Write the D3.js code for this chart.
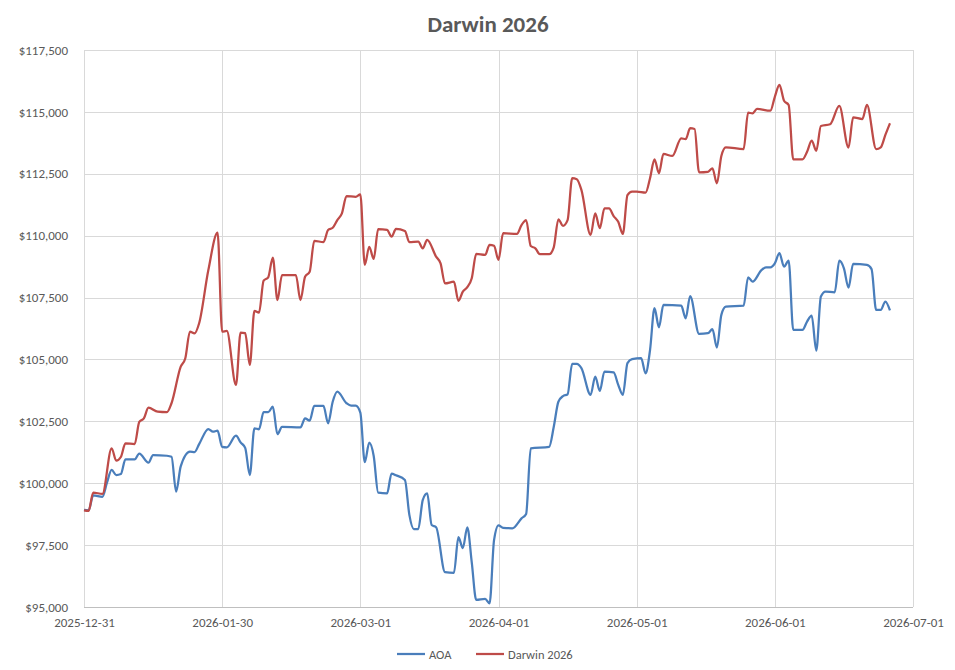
<!DOCTYPE html>
<html>
<head>
<meta charset="utf-8">
<script src="https://cdn.jsdelivr.net/npm/d3@7"></script>
<style>
  body { margin: 0; background: #fff; }
  text { font-family: Calibri, Carlito, "Liberation Sans Narrow", "Liberation Sans", Arial, sans-serif; fill: #595959; }
</style>
</head>
<body>
<script>
const title = "Darwin 2026";
const seriesNames = ["AOA", "Darwin 2026"];
const tickDates = ["2025-12-31", "2026-01-30", "2026-03-01", "2026-04-01", "2026-05-01", "2026-06-01", "2026-07-01"];
const yTicks = [95000, 97500, 100000, 102500, 105000, 107500, 110000, 112500, 115000, 117500];

// days since 2025-12-31
const aoaDays = [0,1,2,4,5,6,7,8,9,11,12,14,15,18,19,20,21,23,24,25,27,28,29,30,31,33,34,35,36,37,38,39,40,41,42,43,47,48,49,50,52,53,54,55,57,58,59,60,61,62,63,64,66,67,68,70,71,72,73,74,75,76,77,79,81,82,83,84,85,86,88,89,90,91,92,94,96,97,98,102,103,104,105,106,107,108,109,111,112,113,114,116,117,118,119,120,122,123,124,125,126,127,131,132,133,135,137,138,139,140,141,145,146,147,149,150,151,152,153,154,155,156,158,159,160,161,162,163,165,166,167,168,169,172,173,174,175,176,177];
const aoaValues = [98920,98900,99510,99450,100030,100540,100330,100370,100960,100960,101200,100830,101140,101110,101070,99660,100680,101280,101260,101580,102190,102080,102120,101470,101450,101920,101650,101430,100330,102220,102180,102870,102870,103090,101980,102280,102260,102620,102530,103120,103120,102420,103290,103700,103230,103130,103130,102850,100850,101640,101100,99620,99590,100390,100320,100130,98720,98150,98150,99320,99590,98310,98220,96410,96380,97820,97380,98220,96800,95290,95330,95150,97700,98300,98200,98180,98580,98760,101410,101470,102280,103290,103520,103590,104820,104820,104650,103570,104310,103730,104510,104480,103970,103570,104850,105010,105050,104440,105380,107070,106300,107200,107170,106660,107560,106030,106060,106220,105480,106800,107130,107170,108320,108140,108610,108720,108720,108880,109290,108750,108990,106190,106190,106530,106770,105360,107540,107740,107710,108990,108680,107900,108860,108820,108650,107000,107000,107340,106980];

const darwinDays = [0,1,2,4,6,7,8,9,11,12,13,14,16,18,19,21,22,23,24,25,27,29,30,31,33,34,35,36,37,38,39,40,41,42,43,46,47,48,49,50,52,53,54,55,56,57,59,60,61,62,63,64,66,67,68,70,71,73,74,75,77,78,79,81,82,83,84,85,86,88,89,90,91,92,95,96,97,98,99,100,102,103,104,105,106,107,108,109,111,112,113,114,115,116,117,118,119,120,121,123,124,125,126,127,129,131,132,133,134,135,137,138,139,140,141,145,146,147,148,151,152,153,154,155,156,158,159,160,161,162,164,166,168,169,171,172,174,175,176,177];
const darwinValues = [98900,98880,99620,99570,101410,100910,101060,101610,101580,102480,102620,103050,102890,102870,103230,104710,105050,106120,106050,106460,108610,110120,106120,106150,103970,106080,106060,104780,106960,106890,108180,108320,109110,107400,108410,108410,107400,108340,108540,109790,109740,110230,110320,110630,110900,111600,111570,111670,108820,109550,109060,110260,110230,109960,110270,110190,109740,109760,109490,109830,109150,108880,108070,108140,107370,107740,107920,108280,109260,109220,109630,109590,109020,110100,110070,110430,110630,109580,109490,109250,109250,109530,110660,110400,110630,112320,112280,111850,110030,110900,110300,111100,111100,110790,110560,110070,111640,111780,111780,111740,112320,113080,112520,113300,113220,113930,113900,114340,114310,112560,112580,112720,112110,113220,113570,113500,114970,114940,115120,115050,115610,116090,115450,115280,113080,113080,113390,113840,113430,114430,114500,115240,113560,114780,114710,115280,113500,113570,114070,114540];

const colors = ["#4a7ebb", "#be4b48"];

const margin = {top: 50, right: 42, bottom: 63, left: 84},
    width = 955 - margin.left - margin.right,
    height = 670 - margin.top - margin.bottom;

const parseDate = d3.timeParse("%Y-%m-%d");
const start = parseDate(tickDates[0]);
const tickDateObjs = tickDates.map(parseDate);

let svg = d3.select("body").append("svg")
    .attr("width", 955)
    .attr("height", 670);

svg.append("text")
    .attr("x", 488)
    .attr("y", 32)
    .attr("text-anchor", "middle")
    .style("font-size", "23px")
    .style("font-weight", "bold")
    .text(title);

let graph = svg.append("g")
    .attr("transform", "translate(" + margin.left + "," + margin.top + ")");

// excel spaces the labelled dates evenly
let x = d3.scaleTime()
    .domain(tickDateObjs)
    .range(tickDateObjs.map((d, i) => i * width / (tickDateObjs.length - 1)));

let y = d3.scaleLinear()
    .domain([95000, 117500])
    .range([height, 0]);

// gridlines
graph.append("g")
    .selectAll("line")
    .data(yTicks)
    .enter()
    .append("line")
    .attr("x1", 0)
    .attr("x2", width)
    .attr("y1", d => Math.round(y(d)) + 0.5)
    .attr("y2", d => Math.round(y(d)) + 0.5)
    .attr("stroke", "#d9d9d9");

graph.append("g")
    .selectAll("line")
    .data(tickDateObjs)
    .enter()
    .append("line")
    .attr("x1", d => Math.round(x(d)) + 0.5)
    .attr("x2", d => Math.round(x(d)) + 0.5)
    .attr("y1", 0)
    .attr("y2", height)
    .attr("stroke", "#d9d9d9");

graph.append("line")
    .attr("x1", 0).attr("x2", width)
    .attr("y1", height + 0.5).attr("y2", height + 0.5)
    .attr("stroke", "#bfbfbf");

// axes
let yAxis = graph.append("g")
    .call(d3.axisLeft(y).tickValues(yTicks).tickSize(0).tickPadding(16)
        .tickFormat(d => "$" + d3.format(",")(d)));
yAxis.select(".domain").remove();
yAxis.selectAll("text").style("font-size", "13px");

let xAxis = graph.append("g")
    .attr("transform", "translate(0," + height + ")")
    .call(d3.axisBottom(x).tickValues(tickDateObjs).tickSize(0).tickPadding(11)
        .tickFormat(d3.timeFormat("%Y-%m-%d")));
xAxis.select(".domain").remove();
xAxis.selectAll("text").style("font-size", "13px");

// lines
const series = [
    {name: seriesNames[0], days: aoaDays, values: aoaValues, color: colors[0]},
    {name: seriesNames[1], days: darwinDays, values: darwinValues, color: colors[1]}
];

let line = d3.line()
    .x(d => x(d.date))
    .y(d => y(d.value))
    .curve(d3.curveMonotoneX);

series.forEach(s => {
    let pts = s.days.map((d, i) => ({date: d3.timeDay.offset(start, d), value: s.values[i]}));
    graph.append("path")
        .datum(pts)
        .attr("fill", "none")
        .attr("stroke", s.color)
        .attr("stroke-width", 2.25)
        .attr("stroke-linejoin", "round")
        .attr("d", line);
});

// legend
let legend = svg.append("g").attr("transform", "translate(0,654)");
const legendX = [397, 476];
series.forEach((s, i) => {
    legend.append("line")
        .attr("x1", legendX[i]).attr("x2", legendX[i] + 28)
        .attr("y1", 0).attr("y2", 0)
        .attr("stroke", s.color)
        .attr("stroke-width", 2.25);
    legend.append("text")
        .attr("x", legendX[i] + 32)
        .attr("y", 4.5)
        .style("font-size", "12.5px")
        .text(s.name);
});
</script>
</body>
</html>
